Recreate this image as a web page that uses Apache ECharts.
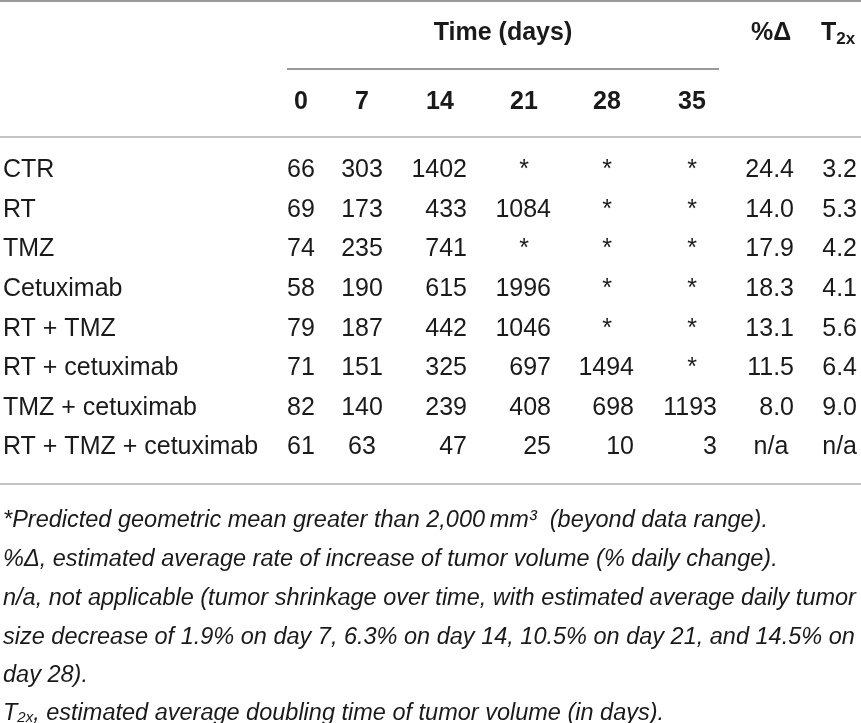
<!DOCTYPE html>
<html>
<head>
<meta charset="utf-8">
<script src="https://cdn.jsdelivr.net/npm/echarts@6/dist/echarts.min.js"></script>
<style>
  html, body { margin: 0; padding: 0; background: #fff; }
  #table { width: 861px; height: 723px; }
</style>
</head>
<body>
<div id="table"></div>
<script>
// table content
var groups = ['CTR', 'RT', 'TMZ', 'Cetuximab', 'RT + TMZ', 'RT + cetuximab', 'TMZ + cetuximab', 'RT + TMZ + cetuximab'];
var days = ['0', '7', '14', '21', '28', '35'];
// geometric mean tumor volume, null = beyond data range (*)
var day0 = [66, 69, 74, 58, 79, 71, 82, 61];
var day7 = [303, 173, 235, 190, 187, 151, 140, 63];
var day14 = [1402, 433, 741, 615, 442, 325, 239, 47];
var day21 = [null, 1084, null, 1996, 1046, 697, 408, 25];
var day28 = [null, null, null, null, null, 1494, 698, 10];
var day35 = [null, null, null, null, null, null, 1193, 3];
// null = n/a
var pctDelta = [24.4, 14.0, 17.9, 18.3, 13.1, 11.5, 8.0, null];
var t2x = [3.2, 5.3, 4.2, 4.1, 5.6, 6.4, 9.0, null];

var footnotes = [
	'*Predicted geometric mean greater than 2,000\u2009mm\u00b3  (beyond data range).',
	'%\u0394, estimated average rate of increase of tumor volume (% daily change).',
	'n/a, not applicable (tumor shrinkage over time, with estimated average daily tumor',
	'size decrease of 1.9% on day 7, 6.3% on day 14, 10.5% on day 21, and 14.5% on',
	'day 28).'
];
var lastNote = ', estimated average doubling time of tumor volume (in days).';

// layout (pixels)
var colCenter = [301, 362, 440, 524, 607, 692, 771, 838];
var colRight = [314, 383, 467, 551, 634, 717, 794, 857];
var centeredCols = [0, 1];
var font = "'Liberation Sans', Arial, Helvetica, sans-serif";
var ink = '#1a1a1a';

var columns = [day0, day7, day14, day21, day28, day35];

var cells = [];
for (var r = 0; r < groups.length; r++) {
	for (var c = 0; c < columns.length; c++) {
		var v = columns[c][r];
		if (v == null) {
			cells.push({ x: colCenter[c], row: r, text: '*', align: 'center' });
		} else if (centeredCols.indexOf(c) >= 0) {
			cells.push({ x: colCenter[c], row: r, text: String(v), align: 'center' });
		} else {
			cells.push({ x: colRight[c], row: r, text: String(v), align: 'right' });
		}
	}
	if (pctDelta[r] == null) {
		cells.push({ x: colCenter[6], row: r, text: 'n/a', align: 'center' });
	} else {
		cells.push({ x: colRight[6], row: r, text: pctDelta[r].toFixed(1), align: 'right' });
	}
	if (t2x[r] == null) {
		cells.push({ x: colRight[7], row: r, text: 'n/a', align: 'right' });
	} else {
		cells.push({ x: colRight[7], row: r, text: t2x[r].toFixed(1), align: 'right' });
	}
}

function renderCell(params, api) {
	var d = cells[params.dataIndex];
	var p = api.coord([api.value(0), api.value(1)]);
	return {
		type: 'text',
		x: p[0],
		y: p[1],
		style: {
			text: d.text,
			textAlign: d.align,
			textVerticalAlign: 'middle',
			fill: ink,
			fontSize: 25,
			fontFamily: font
		}
	};
}

function rule(y, x1, x2, color) {
	return {
		type: 'line',
		shape: { x1: x1, y1: y, x2: x2, y2: y },
		style: { stroke: color, lineWidth: 2 }
	};
}

var headerStyle = { fill: ink, fontSize: 25, fontWeight: 'bold', fontFamily: font, align: 'center', verticalAlign: 'middle' };

var graphics = [
	rule(1, 0, 861, '#9a9a9a'),
	rule(69, 287, 719, '#9a9a9a'),
	rule(137, 0, 861, '#c4c4c4'),
	rule(484, 0, 861, '#c4c4c4'),
	{ type: 'text', x: 503, y: 33, style: Object.assign({ text: 'Time (days)' }, headerStyle) },
	{ type: 'text', x: colCenter[6], y: 33, style: Object.assign({ text: '%\u0394' }, headerStyle) },
	{
		type: 'text', x: colCenter[7], y: 33,
		style: {
			text: '{t|T}{s|2x}', align: 'center', verticalAlign: 'middle',
			rich: {
				t: { fontSize: 25, fontWeight: 'bold', fontFamily: font, fill: ink, lineHeight: 30 },
				s: { fontSize: 17, fontWeight: 'bold', fontFamily: font, fill: ink, lineHeight: 30, padding: [12, 0, 0, 0] }
			}
		}
	}
];
days.forEach(function(d, i) {
	graphics.push({ type: 'text', x: colCenter[i], y: 102, style: Object.assign({ text: d }, headerStyle) });
});
var noteY = [520, 559, 598, 637, 675, 713];
var noteStyle = { fill: ink, fontSize: 23.5, fontStyle: 'italic', fontFamily: font, verticalAlign: 'middle' };
footnotes.forEach(function(t, i) {
	graphics.push({ type: 'text', x: 3, y: noteY[i], style: Object.assign({ text: t }, noteStyle) });
});
graphics.push({
	type: 'text', x: 3, y: noteY[5],
	style: {
		text: '{t|T}{s|2x}{t|' + lastNote + '}', verticalAlign: 'middle',
		rich: {
			t: { fontSize: 23.5, fontStyle: 'italic', fontFamily: font, fill: ink, lineHeight: 28 },
			s: { fontSize: 15, fontStyle: 'italic', fontFamily: font, fill: ink, lineHeight: 28, padding: [10, 0, 0, 0] }
		}
	}
});

var option = {
	animation: false,
	grid: { left: 0, right: 0, top: 150.2, height: 317.2, outerBoundsMode: 'none' },
	xAxis: { type: 'value', min: 0, max: 861, show: false },
	yAxis: {
		type: 'category',
		data: groups,
		inverse: true,
		axisLine: { show: false },
		axisTick: { show: false },
		splitLine: { show: false },
		axisLabel: { align: 'left', margin: -3, fontSize: 25, color: ink, fontFamily: font }
	},
	graphic: graphics,
	series: [{
		type: 'custom',
		renderItem: renderCell,
		silent: true,
		data: cells.map(function(d) { return [d.x, d.row]; })
	}]
};

var tableChart = echarts.init(document.getElementById('table'));
tableChart.setOption(option);
</script>
</body>
</html>
